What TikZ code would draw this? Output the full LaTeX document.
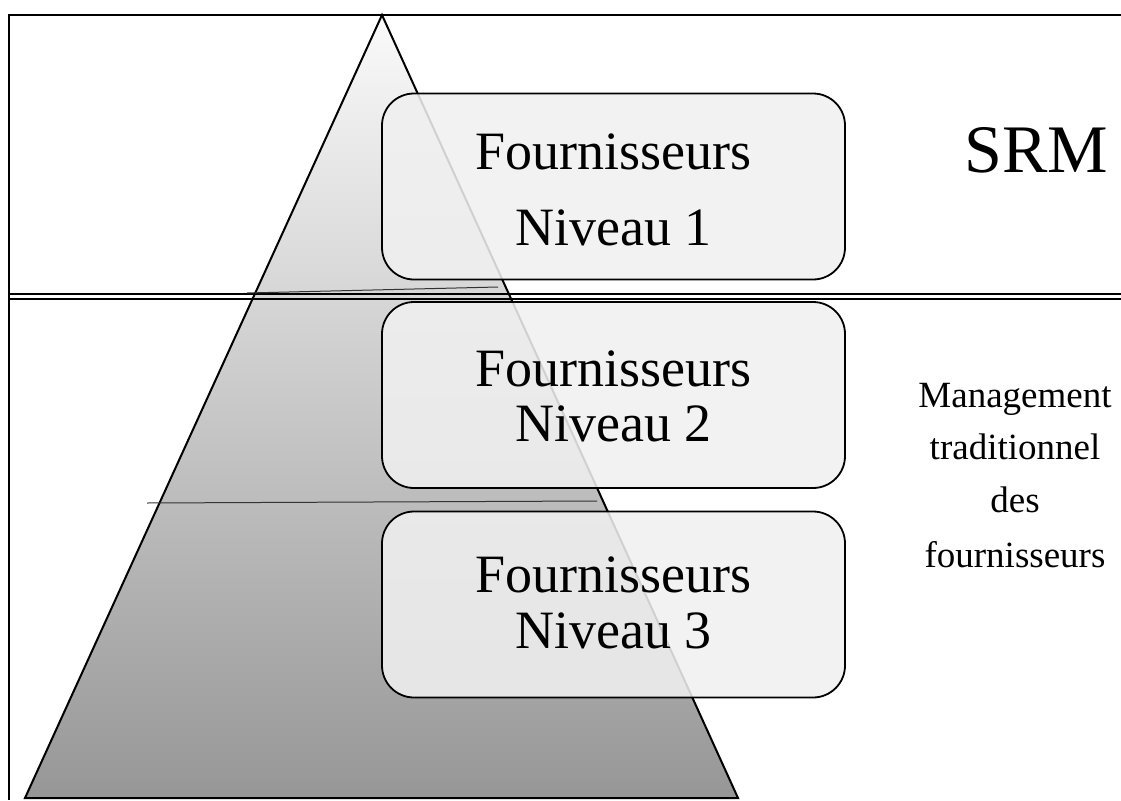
\documentclass[tikz,border=0pt]{standalone}
\usepackage{fontspec}
\setmainfont{Liberation Serif}
\definecolor{pyrtop}{gray}{0.98}
\definecolor{pyrbot}{gray}{0.59}
\definecolor{boxfill}{gray}{0.94}
\begin{document}
\begin{tikzpicture}[x=1pt,y=-1pt,
  frameline/.style={line width=2pt, black},
  sepline/.style={line width=1.4pt, black},
  tierline/.style={line width=1pt, black!80},
  pyramid/.style={draw=black, line width=2pt, top color=pyrtop, bottom color=pyrbot},
  tierbox/.style={draw=black, line width=1.8pt, rounded corners=32pt,
    fill=boxfill, fill opacity=0.87, draw opacity=1,
    minimum width=463pt, minimum height=186pt, inner sep=0pt},
  tiertext/.style={anchor=base, inner sep=0pt, font=\fontsize{54}{60}\selectfont},
  sidetext/.style={anchor=base, inner sep=0pt, font=\fontsize{37}{42}\selectfont},
  bigtext/.style={anchor=base, inner sep=0pt, font=\fontsize{68}{74}\selectfont}
]
\useasboundingbox (0,0) rectangle (1121,800);

% pyramid
\coordinate (apex) at (382,15);
\coordinate (baseL) at (25,798);
\coordinate (baseR) at (738,798);
\shade[pyramid] (apex) -- (baseL) -- (baseR) -- cycle;

% outer frame (open to the right and bottom)
\coordinate (frameTL) at (9,15);
\coordinate (frameTR) at (1121,15);
\coordinate (frameBL) at (9,800);
\draw[frameline] (frameTR) -- (frameTL) -- (frameBL);

% double separator between the two zones
\coordinate (sepAL) at (8,294);
\coordinate (sepAR) at (1121,294);
\coordinate (sepBL) at (8,299);
\coordinate (sepBR) at (1121,299);
\draw[sepline] (sepAL) -- (sepAR);
\draw[sepline] (sepBL) -- (sepBR);

% tier lines across the pyramid
\coordinate (tierAL) at (247,293);
\coordinate (tierAR) at (498,287);
\coordinate (tierBL) at (147,503);
\coordinate (tierBR) at (597,501);
\draw[tierline] (tierAL) -- (tierAR);
\draw[tierline] (tierBL) -- (tierBR);

% supplier tiers
\node[tierbox] (box1) at (613.5,186.5) {};
\node[tierbox] (box2) at (613.5,395) {};
\node[tierbox] (box3) at (613.5,604.5) {};

\node[tiertext] (t1a) at (613.5,169) {Fournisseurs};
\node[tiertext] (t1b) at (613.5,245) {Niveau 1};
\node[tiertext] (t2a) at (613.5,386) {Fournisseurs};
\node[tiertext] (t2b) at (613.5,441) {Niveau 2};
\node[tiertext] (t3a) at (613.5,592) {Fournisseurs};
\node[tiertext] (t3b) at (613.5,648) {Niveau 3};

% zone labels
\node[bigtext] (srm) at (1036,172) {SRM};
\node[sidetext] (m1) at (1015,407) {Management};
\node[sidetext] (m2) at (1015,459) {traditionnel};
\node[sidetext] (m3) at (1015,512) {des};
\node[sidetext] (m4) at (1015,567) {fournisseurs};
\end{tikzpicture}
\end{document}
